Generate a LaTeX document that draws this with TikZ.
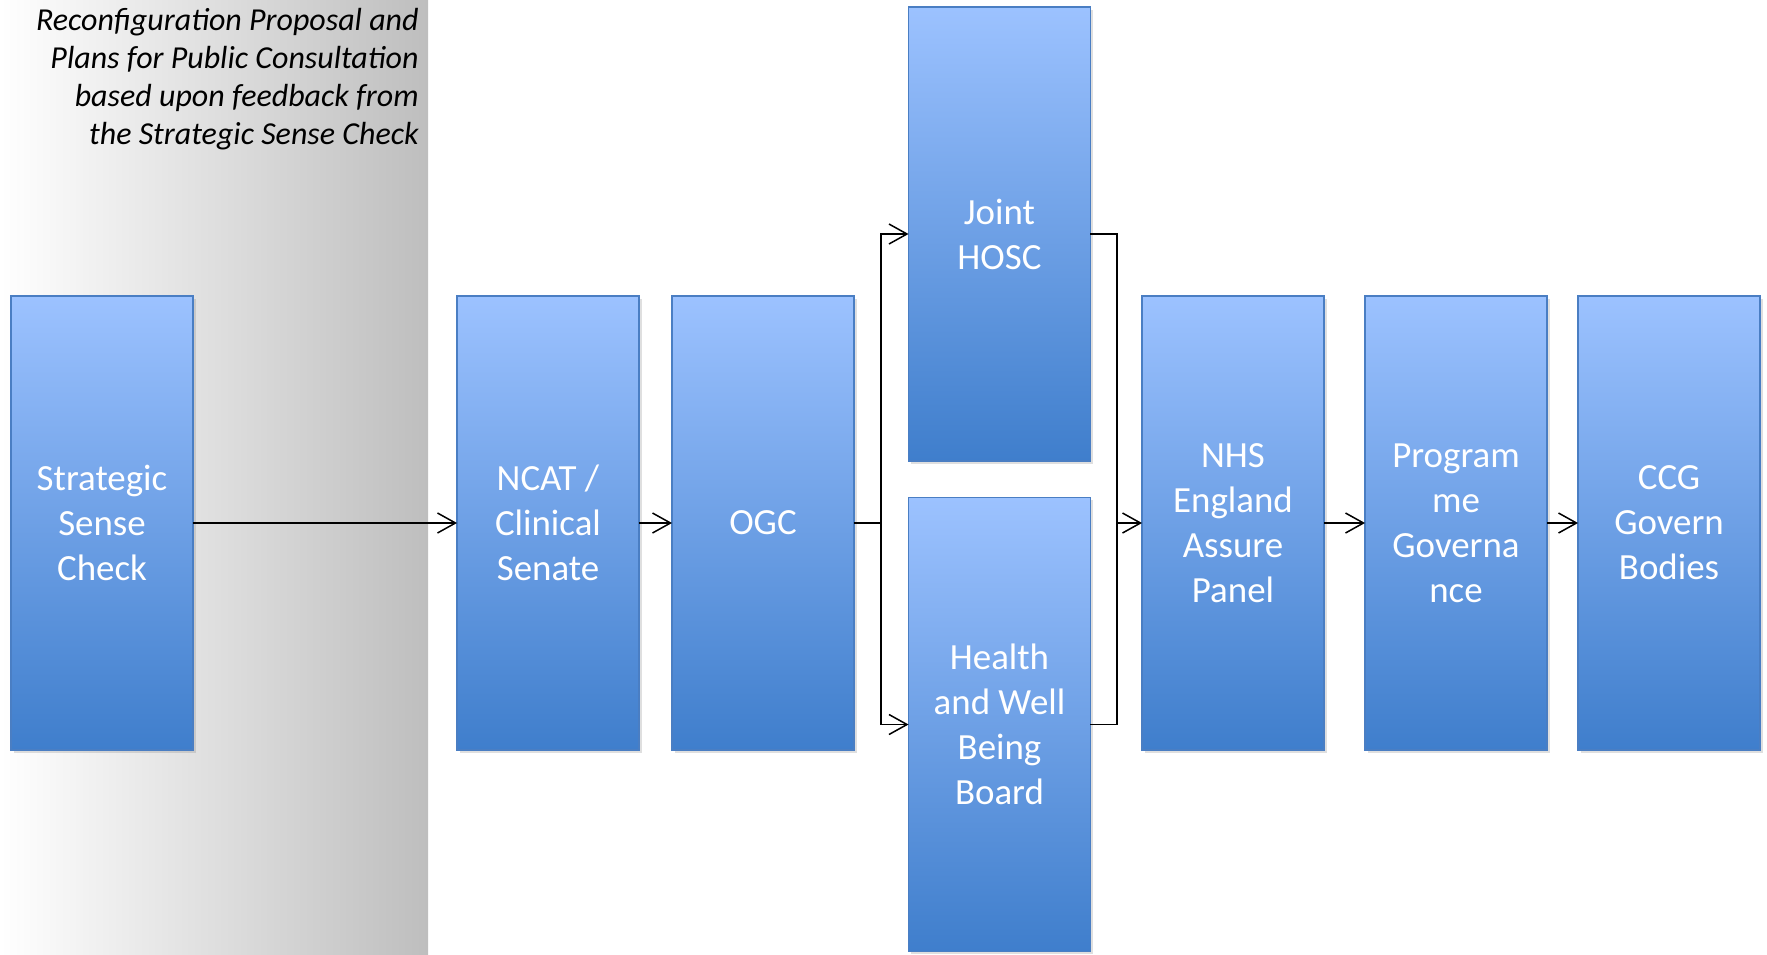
\documentclass[tikz,border=0pt]{standalone}
\usepackage{fontspec}
\setmainfont{Carlito}
\usetikzlibrary{arrows.meta,shadows}

\definecolor{boxtop}{RGB}{156,194,255}
\definecolor{boxbot}{RGB}{63,126,204}
\definecolor{boxline}{RGB}{74,126,195}
\definecolor{panelgray}{RGB}{190,190,190}

\tikzset{
  stage/.style={draw=boxline, line width=0.8pt, top color=boxtop, bottom color=boxbot,
    minimum width=3.64cm, minimum height=9.08cm, inner sep=0pt, outer sep=0pt,
    text=white, align=center, font=\fontsize{21}{25.6}\selectfont,
    drop shadow={opacity=0.25, shadow xshift=1.5pt, shadow yshift=-1.5pt}},
  flow/.style={line width=0.85pt, -{Straight Barb[length=0.36cm,width=0.4cm]}},
  link/.style={line width=0.85pt},
}

\begin{document}
\begin{tikzpicture}[x=0.02cm, y=-0.02cm]
  \useasboundingbox (0,0) rectangle (1767,954);
  % grey panel behind the first step
  \shade[left color=white, right color=panelgray] (0,0) rectangle (428,954);
  \node[anchor=north east, align=right, inner sep=0pt, font=\itshape\fontsize{18.2}{21.6}\selectfont]
    (note) at (419,8) {Reconfiguration Proposal and\\Plans for Public Consultation\\based upon feedback from\\the Strategic Sense Check};

  % steps
  \node[stage] (ssc)    at (102,523)    {Strategic\\Sense\\Check};
  \node[stage] (ncat)   at (548,523)    {NCAT /\\Clinical\\Senate};
  \node[stage] (ogc)    at (763,523)    {OGC};
  \node[stage] (hosc)   at (999.5,234)  {Joint\\HOSC};
  \node[stage] (hwb)    at (999.5,724.5){Health\\and Well\\Being\\Board};
  \node[stage] (nhs)    at (1233,523)   {NHS\\England\\Assure\\Panel};
  \node[stage] (prog)   at (1456,523)   {Program\\me\\Governa\\nce};
  \node[stage] (ccg)    at (1669,523)   {CCG\\Govern\\Bodies};

  \coordinate (split) at (881,523);
  \coordinate (merge) at (1117,523);

  % connectors
  \draw[flow] (ssc.east) -- (ncat.west);
  \draw[flow] (ncat.east) -- (ogc.west);
  \draw[link] (ogc.east) -- (split);
  \draw[flow] (split) |- (hosc.west);
  \draw[flow] (split) |- (hwb.west);
  \draw[link] (hosc.east) -| (merge);
  \draw[link] (hwb.east) -| (merge);
  \draw[flow] (merge) -- (nhs.west);
  \draw[flow] (nhs.east) -- (prog.west);
  \draw[flow] (prog.east) -- (ccg.west);
\end{tikzpicture}
\end{document}
